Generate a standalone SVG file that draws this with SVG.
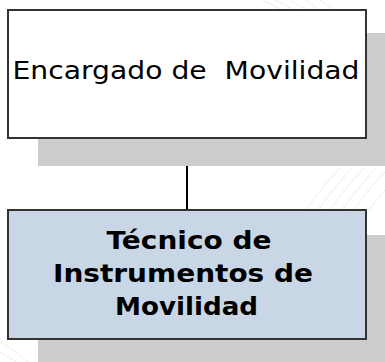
<svg xmlns="http://www.w3.org/2000/svg" width="385" height="362" viewBox="0 0 385 362">
<style>
.bg{fill:none;stroke:#ececec;stroke-width:1}
.shadow{fill:#cccccc}
.box{stroke:#333333;stroke-width:2}
.t{font-family:"DejaVu Sans",Verdana,sans-serif;text-anchor:middle;fill:#000}
.conn{stroke:#000;stroke-width:2;fill:none}
</style>
<rect width="385" height="362" fill="#ffffff"/>
<g id="background">
<path class="bg" d="M262 0 Q280 8 290 16"/>
<path class="bg" d="M275 0 Q292 8 302 16"/>
<path class="bg" d="M290 0 Q305 8 314 16"/>
<path class="bg" d="M305 0 Q318 8 326 16"/>
<path class="bg" d="M320 0 Q330 8 338 14"/>
<path class="bg" d="M290 235 Q310 200 340 168"/>
<path class="bg" d="M302 235 Q322 200 352 168"/>
<path class="bg" d="M314 235 Q334 200 364 168"/>
<path class="bg" d="M326 235 Q346 200 376 168"/>
<path class="bg" d="M338 235 Q358 200 385 172"/>
<path class="bg" d="M350 235 Q368 210 385 190"/>
<path class="bg" d="M0 342 Q15 350 28 362"/>
<path class="bg" d="M0 352 Q8 356 16 362"/>
</g>
<g id="connectors">
<line class="conn" x1="187" y1="138" x2="187" y2="210"/>
</g>
<g id="node-encargado">
<rect class="shadow" x="38" y="33" width="360" height="133"/>
<rect class="box" x="8" y="10" width="358" height="128" fill="#ffffff"/>
<text class="t" x="186" y="79" font-size="25" textLength="347" lengthAdjust="spacingAndGlyphs" xml:space="preserve">Encargado de  Movilidad</text>
</g>
<g id="node-tecnico">
<rect class="shadow" x="38" y="235" width="360" height="140"/>
<rect class="box" x="8" y="210" width="358" height="129" fill="#c8d6e6"/>
<text class="t" font-size="25.5" font-weight="bold" x="189" y="249" textLength="165" lengthAdjust="spacingAndGlyphs">Técnico de</text>
<text class="t" font-size="25.5" font-weight="bold" x="183" y="282" textLength="260" lengthAdjust="spacingAndGlyphs">Instrumentos de</text>
<text class="t" font-size="25.5" font-weight="bold" x="186.5" y="315" textLength="143" lengthAdjust="spacingAndGlyphs">Movilidad</text>
</g>
</svg>
